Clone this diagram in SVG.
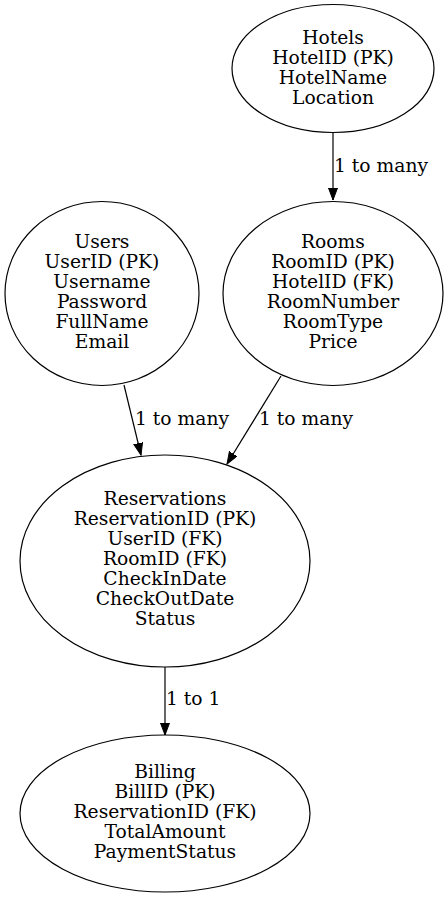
<svg xmlns="http://www.w3.org/2000/svg" width="448" height="897" viewBox="0 0 448 897">
<style>
  .node ellipse { fill: none; stroke: #000; stroke-width: 1.2; }
  text { font-family: "DejaVu Serif", "Liberation Serif", serif; font-size: 18.7px; fill: #000; }
  .node text { text-anchor: middle; }
  .edge path { fill: none; stroke: #000; stroke-width: 1.2; marker-end: url(#arrow); }
</style>
<defs>
  <marker id="arrow" markerUnits="userSpaceOnUse" markerWidth="13" markerHeight="10" refX="12" refY="4.5" orient="auto">
    <path d="M0,0 L12,4.5 L0,9 Z" fill="#000" stroke="#000" stroke-width="1"/>
  </marker>
</defs>
<rect width="448" height="897" fill="#fff"/>
<g id="edges">
  <g class="edge" id="hotels-rooms">
    <path d="M333,133 L333,200"/>
    <text x="334" y="172">1 to many</text>
  </g>
  <g class="edge" id="users-reservations">
    <path d="M124,385 L141,455"/>
    <text x="135" y="425">1 to many</text>
  </g>
  <g class="edge" id="rooms-reservations">
    <path d="M281,376 L227,464"/>
    <text x="259" y="425">1 to many</text>
  </g>
  <g class="edge" id="reservations-billing">
    <path d="M165,667 L165,735"/>
    <text x="166" y="705">1 to 1</text>
  </g>
</g>
<g class="node" id="hotels">
  <ellipse cx="333" cy="68.5" rx="101" ry="64"/>
  <text x="333" y="44">Hotels</text>
  <text x="333" y="64">HotelID (PK)</text>
  <text x="333" y="84">HotelName</text>
  <text x="333" y="104">Location</text>
</g>
<g class="node" id="users">
  <ellipse cx="102" cy="293.5" rx="97" ry="92"/>
  <text x="102" y="248">Users</text>
  <text x="102" y="268">UserID (PK)</text>
  <text x="102" y="288">Username</text>
  <text x="102" y="308">Password</text>
  <text x="102" y="328">FullName</text>
  <text x="102" y="348">Email</text>
</g>
<g class="node" id="rooms">
  <ellipse cx="333" cy="293.5" rx="110" ry="92"/>
  <text x="333" y="248">Rooms</text>
  <text x="333" y="268">RoomID (PK)</text>
  <text x="333" y="288">HotelID (FK)</text>
  <text x="333" y="308">RoomNumber</text>
  <text x="333" y="328">RoomType</text>
  <text x="333" y="348">Price</text>
</g>
<g class="node" id="reservations">
  <ellipse cx="165" cy="561" rx="145" ry="106"/>
  <text x="165" y="505">Reservations</text>
  <text x="165" y="525">ReservationID (PK)</text>
  <text x="165" y="545">UserID (FK)</text>
  <text x="165" y="565">RoomID (FK)</text>
  <text x="165" y="585">CheckInDate</text>
  <text x="165" y="605">CheckOutDate</text>
  <text x="165" y="625">Status</text>
</g>
<g class="node" id="billing">
  <ellipse cx="165" cy="813.5" rx="145" ry="78.5"/>
  <text x="165" y="778">Billing</text>
  <text x="165" y="798">BillID (PK)</text>
  <text x="165" y="818">ReservationID (FK)</text>
  <text x="165" y="838">TotalAmount</text>
  <text x="165" y="858">PaymentStatus</text>
</g>
</svg>
